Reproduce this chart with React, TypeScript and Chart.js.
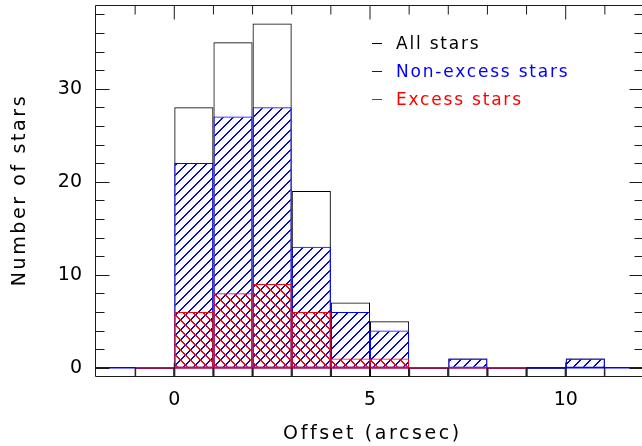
import React, { useEffect, useRef } from "react";
import { Chart, registerables } from "chart.js";

Chart.register(...registerables);

// ---- data ----
const ALL_BIN_CENTERS = [-0.5, 0.5, 1.5, 2.5, 3.5, 4.5, 5.5, 6.5, 7.5, 8.5, 9.5, 10.5];
const ALL_COUNTS = [0, 28, 35, 37, 19, 7, 5, 0, 1, 0, 0, 1];

const NONEXCESS_BIN_CENTERS = [-1.5, -0.5, 0.5, 1.5, 2.5, 3.5, 4.5, 5.5, 6.5, 7.5, 8.5, 9.5, 10.5, 11.5];
const NONEXCESS_COUNTS = [0, 0, 22, 27, 28, 13, 6, 4, 0, 1, 0, 0, 1, 0];

const EXCESS_BIN_CENTERS = [-0.5, 0.5, 1.5, 2.5, 3.5, 4.5, 5.5, 6.5, 7.5, 8.5];
const EXCESS_COUNTS = [0, 6, 8, 9, 6, 1, 1, 0, 0, 0];

const SERIES_LABELS = ["All stars", "Non-excess stars", "Excess stars"];

const X_MAJOR_TICKS = [0, 5, 10];
const X_MINOR_TICKS = [-1, 1, 2, 3, 4, 6, 7, 8, 9, 11];
const Y_MAJOR_TICKS = [0, 10, 20, 30];
const Y_MINOR_TICKS = [2, 4, 6, 8, 12, 14, 16, 18, 22, 24, 26, 28, 32, 34, 36, 38];

const X_TITLE = "Offset (arcsec)";
const Y_TITLE = "Number of stars";

const X_MIN = -2;
const X_MAX = 12;
const Y_MIN = -1;
const Y_MAX = 39;

const FONT = '"DejaVu Sans", sans-serif';
const BLACK = "#000000";
const BLUE = "#0000ff";
const RED = "#ff0000";

// pixel-stepped hatch tile (no antialiasing), like a plotter hatch
function makeHatch(ctx: CanvasRenderingContext2D, color: string, dir: "/" | "\\") {
  const s = 10;
  const c = document.createElement("canvas");
  c.width = s;
  c.height = s;
  const g = c.getContext("2d")!;
  g.fillStyle = color;
  for (let i = 0; i < s; i++) {
    const y = dir === "/" ? s - 1 - i : i;
    g.fillRect(i, y, 1, 1);
    g.fillRect((i + 1) % s, y, 1, 1);
  }
  return ctx.createPattern(c, "repeat")!;
}

function pts(xs: number[], ys: number[]) {
  return xs.map((x, i) => ({ x, y: ys[i] }));
}

function spanLine(centers: number[]) {
  const lo = Math.min(...centers) - 0.5;
  const hi = Math.max(...centers) + 0.5;
  return [{ x: lo, y: 0 }, { x: hi, y: 0 }];
}

const framePlugin = {
  id: "pgplotFrame",
  afterDraw(chart: any) {
    const { ctx, chartArea, scales } = chart;
    const { left, right, top, bottom } = chartArea;
    const xs = scales.x;
    const ys = scales.y;
    ctx.save();
    ctx.strokeStyle = "#1a1a1a";
    ctx.lineWidth = 1;
    const L = left - 0.5, R = right - 0.5, T = top + 0.5, B = bottom - 0.5;
    ctx.beginPath();
    ctx.moveTo(L, T); ctx.lineTo(R, T); ctx.lineTo(R, B); ctx.lineTo(L, B); ctx.closePath();
    ctx.stroke();
    const MAJ = 14, MIN = 9;
    ctx.beginPath();
    const xt = (v: number, len: number) => {
      const p = xs.getPixelForValue(v);
      ctx.moveTo(p, T); ctx.lineTo(p, T + len);
      ctx.moveTo(p, B); ctx.lineTo(p, B - len);
    };
    const yt = (v: number, len: number) => {
      const p = Math.round(ys.getPixelForValue(v)) + 0.5;
      ctx.moveTo(L, p); ctx.lineTo(L + len, p);
      ctx.moveTo(R, p); ctx.lineTo(R - len, p);
    };
    X_MAJOR_TICKS.forEach((v) => xt(v, MAJ));
    X_MINOR_TICKS.forEach((v) => xt(v, MIN));
    Y_MAJOR_TICKS.forEach((v) => yt(v, MAJ));
    Y_MINOR_TICKS.forEach((v) => yt(v, MIN));
    ctx.stroke();

    // axis titles
    ctx.fillStyle = BLACK;
    ctx.font = `19px ${FONT}`;
    (ctx as any).letterSpacing = "2.6px";
    ctx.textAlign = "center";
    ctx.textBaseline = "alphabetic";
    ctx.fillText(X_TITLE, (left + right) / 2 + 2.5, 439);
    ctx.save();
    ctx.translate(25, 190);
    ctx.rotate(-Math.PI / 2);
    ctx.fillText(Y_TITLE, 0, 0);
    ctx.restore();

    // legend
    ctx.font = `17px ${FONT}`;
    (ctx as any).letterSpacing = "1.8px";
    ctx.textAlign = "left";
    const items = chart.data.datasets.filter((d: any) => d.label);
    items.forEach((d: any, i: number) => {
      const base = 49 + i * 28;
      ctx.strokeStyle = d.borderColor;
      ctx.beginPath();
      ctx.moveTo(372, base - 5.5);
      ctx.lineTo(382, base - 5.5);
      ctx.stroke();
      ctx.fillStyle = d.borderColor;
      ctx.fillText(d.label, 396, base);
    });
    (ctx as any).letterSpacing = "0px";
    ctx.restore();
  },
};

function zeroPad(s: any) {
  s.paddingTop = 0;
  s.paddingBottom = 0;
  s.paddingLeft = 0;
  s.paddingRight = 0;
}

export default function App() {
  const ref = useRef<HTMLCanvasElement | null>(null);

  useEffect(() => {
    document.body.style.margin = "0";
    const canvas = ref.current!;
    const ctx = canvas.getContext("2d")!;
    const blueHatch = makeHatch(ctx, BLUE, "/");
    const redHatch = makeHatch(ctx, RED, "\\");

    const barCommon = {
      type: "bar" as const,
      grouped: false,
      barPercentage: 1,
      categoryPercentage: 1,
      borderWidth: 1,
      borderSkipped: false as const,
      inflateAmount: 0,
    };

    const chart = new Chart(canvas, {
      type: "bar",
      data: {
        datasets: [
          {
            ...barCommon,
            label: SERIES_LABELS[0],
            data: pts(ALL_BIN_CENTERS, ALL_COUNTS),
            base: Y_MIN,
            backgroundColor: "rgba(0,0,0,0)",
            borderColor: BLACK,
            order: 5,
          } as any,
          {
            ...barCommon,
            label: SERIES_LABELS[1],
            data: pts(NONEXCESS_BIN_CENTERS, NONEXCESS_COUNTS),
            backgroundColor: blueHatch,
            borderColor: BLUE,
            order: 4,
          } as any,
          {
            type: "line",
            data: spanLine(NONEXCESS_BIN_CENTERS),
            borderColor: BLUE,
            borderWidth: 1.5,
            pointRadius: 0,
            order: 3,
          } as any,
          {
            type: "line",
            data: spanLine(EXCESS_BIN_CENTERS),
            borderColor: RED,
            borderWidth: 1.5,
            pointRadius: 0,
            order: 2,
          } as any,
          {
            ...barCommon,
            label: SERIES_LABELS[2],
            data: pts(EXCESS_BIN_CENTERS, EXCESS_COUNTS),
            backgroundColor: redHatch,
            borderColor: RED,
            order: 1,
          } as any,
        ],
      },
      options: {
        animation: false,
        responsive: false,
        maintainAspectRatio: false,
        devicePixelRatio: 1,
        events: [],
        layout: { autoPadding: false, padding: { top: 5, right: 2, left: 0, bottom: 0 } },
        plugins: {
          legend: { display: false },
          tooltip: { enabled: false },
          title: { display: false },
        },
        scales: {
          x: {
            type: "linear",
            min: X_MIN,
            max: X_MAX,
            offset: false,
            grid: { display: false, drawTicks: false },
            border: { display: false },
            afterBuildTicks: (s: any) => {
              s.ticks = X_MAJOR_TICKS.map((v) => ({ value: v }));
            },
            afterFit: (s: any) => {
              s.height = 69;
              zeroPad(s);
            },
            ticks: {
              font: { family: FONT, size: 19 },
              color: BLACK,
              padding: 12,
              maxRotation: 0,
              autoSkip: false,
            },
          },
          y: {
            type: "linear",
            min: Y_MIN,
            max: Y_MAX,
            grid: { display: false, drawTicks: false },
            border: { display: false },
            afterBuildTicks: (s: any) => {
              s.ticks = Y_MAJOR_TICKS.map((v) => ({ value: v }));
            },
            afterFit: (s: any) => {
              s.width = 96;
              zeroPad(s);
            },
            ticks: {
              font: { family: FONT, size: 19 },
              color: BLACK,
              padding: 14,
              autoSkip: false,
            },
          },
        },
      },
      plugins: [framePlugin],
    });

    return () => chart.destroy();
  }, []);

  return (
    <div style={{ width: 642, height: 446, overflow: "hidden", position: "relative", background: "#fff" }}>
      <canvas ref={ref} width={646} height={446} style={{ display: "block", width: 646, height: 446 }} />
    </div>
  );
}
